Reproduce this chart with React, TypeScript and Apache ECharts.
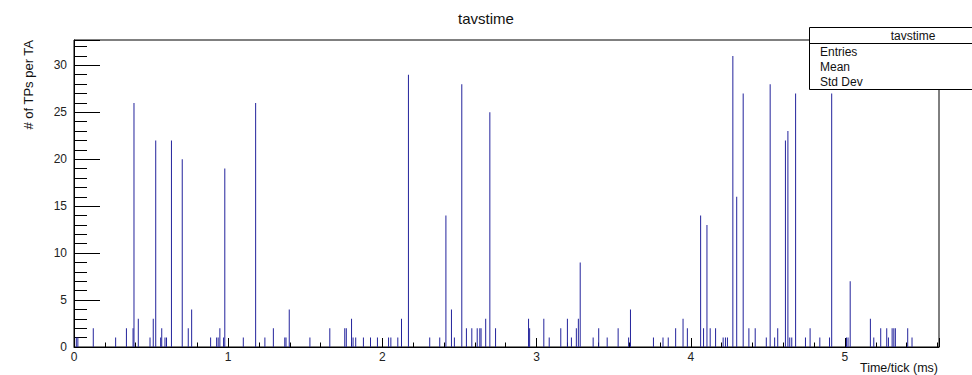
import React, { useEffect, useRef } from "react";
import * as echarts from "echarts";

// Time/tick (ms) positions of the filled bins and their contents (# of TPs per TA)
const binTimes: number[] = [
  0.015, 0.025, 0.125, 0.27, 0.34, 0.383, 0.389, 0.417, 0.493, 0.514, 0.53, 0.562, 0.569, 0.59, 0.6,
  0.632, 0.702, 0.741, 0.763, 0.886, 0.925, 0.935, 0.946, 0.97, 0.978, 1.098, 1.178, 1.238, 1.293,
  1.367, 1.375, 1.396, 1.53, 1.659, 1.756, 1.766, 1.8, 1.81, 1.827, 1.877, 1.923, 1.968, 2.04, 2.055,
  2.1, 2.124, 2.169, 2.307, 2.372, 2.412, 2.448, 2.467, 2.515, 2.545, 2.58, 2.615, 2.632, 2.64, 2.67,
  2.697, 2.734, 2.948, 2.955, 3.047, 3.082, 3.157, 3.2, 3.226, 3.258, 3.271, 3.283, 3.367, 3.403,
  3.458, 3.529, 3.597, 3.609, 3.758, 3.82, 3.854, 3.902, 3.95, 3.978, 4.064, 4.083, 4.105, 4.126,
  4.161, 4.21, 4.225, 4.238, 4.273, 4.298, 4.34, 4.377, 4.418, 4.49, 4.515, 4.544, 4.564, 4.614,
  4.63, 4.642, 4.655, 4.68, 4.744, 4.774, 4.837, 4.9, 4.914, 5.01, 5.02, 5.034, 5.165, 5.187, 5.232,
  5.271, 5.282, 5.306, 5.317, 5.327, 5.407, 5.435,
];
const binCounts: number[] = [
  1, 1, 2, 1, 2, 2, 26, 3, 1, 3, 22, 1, 2, 1, 1,
  22, 20, 2, 4, 1, 1, 1, 2, 1, 19, 1, 26, 1, 2,
  1, 1, 4, 1, 2, 2, 2, 3, 1, 1, 1, 1, 1, 1, 1,
  1, 3, 29, 1, 1, 14, 4, 1, 28, 2, 2, 2, 2, 2, 3,
  25, 2, 3, 2, 3, 1, 2, 3, 1, 2, 3, 9, 1, 2,
  1, 2, 1, 4, 1, 1, 1, 2, 3, 2, 14, 2, 13, 2,
  2, 1, 1, 1, 31, 16, 27, 2, 2, 1, 28, 1, 2, 22,
  23, 1, 1, 27, 1, 2, 1, 1, 27, 1, 1, 7, 3, 1, 2,
  2, 1, 2, 2, 2, 2, 1,
];

const chartTitle = "tavstime";
const xTitle = "Time/tick (ms)";
const yTitle = "# of TPs per TA";
const statRows: string[] = ["Entries", "Mean", "Std Dev"];

const FONT = "'Liberation Sans', Arial, Helvetica, sans-serif";

export default function App() {
  const ref = useRef<HTMLDivElement>(null);
  useEffect(() => {
    if (!ref.current) return;
    const chart = echarts.init(ref.current, null, { renderer: "svg" });
    const data = binTimes.map((t, i) => [t, binCounts[i]]);
    chart.setOption({
      animation: false,
      backgroundColor: "#ffffff",
      title: {
        text: chartTitle,
        left: "center",
        top: 6,
        textStyle: { fontFamily: FONT, fontSize: 15, fontWeight: "normal", color: "#111" },
      },
      grid: {
        left: 74,
        right: 33,
        top: 40,
        bottom: 28,
        show: true,
        borderColor: "#000",
        borderWidth: 1,
        backgroundColor: "transparent",
      },
      xAxis: {
        type: "value",
        min: 0,
        max: 5.61,
        interval: 1,
        axisLine: { show: true, lineStyle: { color: "#000", width: 1 } },
        axisTick: { show: true, inside: true, length: 9, lineStyle: { color: "#000" } },
        minorTick: { show: true, splitNumber: 5, length: 4.5, lineStyle: { color: "#000" } },
        splitLine: { show: false },
        axisLabel: {
          margin: 4,
          fontFamily: FONT,
          fontSize: 12,
          color: "#222",
          showMaxLabel: false,
        },
      },
      yAxis: {
        type: "value",
        min: 0,
        max: 32.7,
        interval: 5,
        axisLine: { show: true, lineStyle: { color: "#000", width: 1 } },
        axisTick: { show: true, inside: true, length: 26, lineStyle: { color: "#000" } },
        minorTick: { show: true, splitNumber: 5, length: 13, lineStyle: { color: "#000" } },
        splitLine: { show: false },
        axisLabel: {
          margin: 7,
          fontFamily: FONT,
          fontSize: 12,
          color: "#222",
          showMaxLabel: false,
        },
      },
      series: [
        {
          type: "bar",
          data,
          barWidth: 1,
          itemStyle: { color: "#23239c" },
          silent: true,
        },
      ],
      graphic: [
        {
          type: "text",
          x: 28,
          y: 40,
          rotation: Math.PI / 2,
          z: 100,
          style: {
            text: yTitle,
            fontFamily: FONT,
            fontSize: 13,
            fill: "#111",
            align: "right",
            verticalAlign: "middle",
          },
        },
        {
          type: "text",
          x: 938,
          y: 368,
          z: 100,
          style: {
            text: xTitle,
            fontFamily: FONT,
            fontSize: 12.5,
            fill: "#111",
            align: "right",
            verticalAlign: "middle",
          },
        },
        {
          type: "rect",
          z: 100,
          shape: { x: 809.5, y: 27.5, width: 210, height: 62 },
          style: { fill: "#fff", stroke: "#000", lineWidth: 1 },
        },
        {
          type: "line",
          z: 101,
          shape: { x1: 809.5, y1: 43.5, x2: 1019.5, y2: 43.5 },
          style: { stroke: "#000", lineWidth: 1 },
        },
        {
          type: "text",
          x: 913,
          y: 35.5,
          z: 102,
          style: {
            text: chartTitle,
            fontFamily: FONT,
            fontSize: 12,
            fill: "#111",
            align: "center",
            verticalAlign: "middle",
          },
        },
        ...statRows.map((r, i) => ({
          type: "text",
          x: 820,
          y: 51.5 + i * 15.2,
          z: 102,
          style: {
            text: r,
            fontFamily: FONT,
            fontSize: 12,
            fill: "#111",
            align: "left",
            verticalAlign: "middle",
          },
        })),
      ],
    });
    return () => chart.dispose();
  }, []);
  return (
    <div
      ref={ref}
      style={{ position: "absolute", left: 0, top: 0, width: 972, height: 375 }}
    />
  );
}
